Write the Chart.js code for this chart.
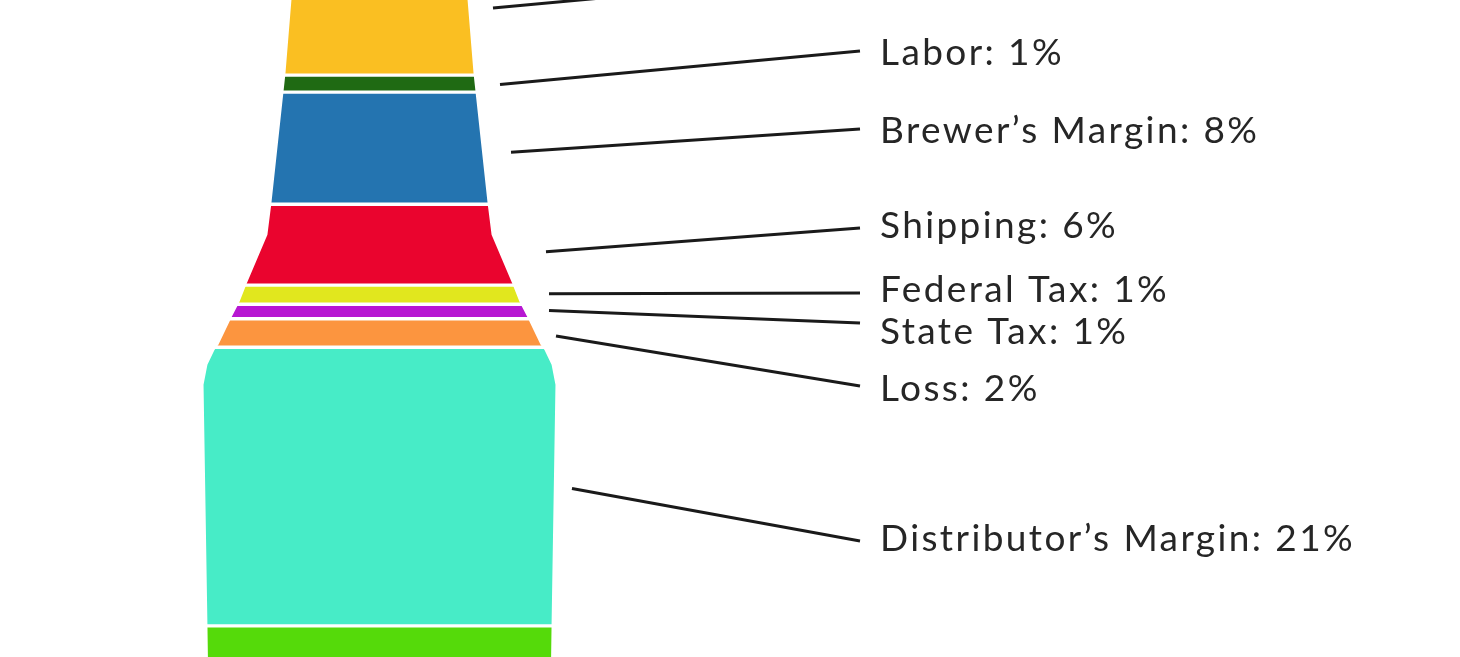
<!DOCTYPE html>
<html>
<head>
<meta charset="utf-8">
<script src="https://cdn.jsdelivr.net/npm/chart.js@4/dist/chart.umd.min.js"></script>
<style>
  html, body { margin: 0; padding: 0; background: #fff; }
  #wrap { width: 1460px; height: 657px; position: relative; }
</style>
</head>
<body>
<div id="wrap"><canvas id="bottleChart"></canvas></div>
<script>
// cost breakdown, top of the bottle first
const categories = ["Packaging", "Labor", "Brewer’s Margin", "Shipping", "Federal Tax", "State Tax", "Loss", "Distributor’s Margin", "Retailer’s Margin"];
const shares = [10, 1.27, 8.36, 6.04, 1.42, 1.08, 2.13, 20.78, 30];
const colors = ["#FABF22", "#1F6A13", "#2474B0", "#EA042E", "#E1E71E", "#B717D2", "#FC953F", "#47ECC7", "#55DA0A"];

// bottle outline: [cumulative share, fraction of bar half width]
const outline = [
  [0, 0.47], [4.4, 0.499], [9.9, 0.533], [19.5, 0.612], [21.9, 0.635],
  [25.5, 0.751], [26.9, 0.793], [28.0, 0.836], [30.1, 0.912], [30.5, 0.935],
  [31.6, 0.975], [33.1, 0.997], [50.9, 0.975], [60, 0.965]
];

// label placement (pixels)
const lineStartX = [493, 500, 511, 546, 549, 549, 556, 572, null];
const lineStartDY = [0, 1, 4, 7, -1, -1, 3, 2, 0];
const lineEndY = [-26, 51, 129, 228, 293, 323, 386, 541, null];
const textBaseY = [-12, 65, 143, 238, 302, 344, 401, 551, null];

function spacedText(ctx, str, x, y, spacing) {
  if ("letterSpacing" in ctx) {
    ctx.letterSpacing = spacing + "px";
    ctx.fillText(str, x, y);
    ctx.letterSpacing = "0px";
    return;
  }
  for (const ch of str) {
    ctx.fillText(ch, x, y);
    x += ctx.measureText(ch).width + spacing;
  }
}

const bottleClip = {
  id: "bottleClip",
  beforeDatasetsDraw(chart) {
    const ctx = chart.ctx;
    const bar = chart.getDatasetMeta(0).data[0];
    const cx = bar.x, half = bar.width / 2;
    const y = chart.scales.y;
    ctx.save();
    ctx.beginPath();
    outline.forEach(([v, f], i) => {
      const px = cx + f * half, py = y.getPixelForValue(v);
      if (i === 0) ctx.moveTo(px, py); else ctx.lineTo(px, py);
    });
    for (let i = outline.length - 1; i >= 0; i--) {
      ctx.lineTo(cx - outline[i][1] * half, y.getPixelForValue(outline[i][0]));
    }
    ctx.closePath();
    ctx.clip();
  },
  afterDatasetsDraw(chart) {
    chart.ctx.restore();
  }
};

const leaderLabels = {
  id: "leaderLabels",
  afterDraw(chart) {
    const ctx = chart.ctx;
    const y = chart.scales.y;
    let cum = 0;
    ctx.save();
    shares.forEach((v, i) => {
      const mid = y.getPixelForValue(cum + v / 2);
      cum += v;
      if (lineStartX[i] == null) return;
      ctx.strokeStyle = "#1a1a1a";
      ctx.lineWidth = 3;
      ctx.beginPath();
      ctx.moveTo(lineStartX[i], mid + lineStartDY[i]);
      ctx.lineTo(860, lineEndY[i]);
      ctx.stroke();
      ctx.fillStyle = "#262626";
      ctx.font = "37px Lato";
      ctx.textBaseline = "alphabetic";
      spacedText(ctx, categories[i] + ": " + Math.round(v) + "%", 880, textBaseY[i], 2.4);
    });
    ctx.restore();
  }
};

new Chart(document.getElementById("bottleChart"), {
  type: "bar",
  data: {
    labels: ["Beer"],
    datasets: categories.map((c, i) => ({
      label: c,
      data: [shares[i]],
      backgroundColor: colors[i],
      borderColor: "#fff",
      borderWidth: { top: 2, bottom: 2, left: 0, right: 0 },
      borderSkipped: false,
      categoryPercentage: 1,
      barPercentage: 1,
    })),
  },
  options: {
    responsive: true,
    maintainAspectRatio: false,
    animation: false,
    layout: { padding: { left: 203, right: 904, top: 0, bottom: 0 } },
    plugins: { legend: { display: false }, tooltip: { enabled: false } },
    scales: {
      x: { stacked: true, display: false },
      y: { stacked: true, display: false, reverse: true, min: 4.4, max: 53.4 },
    },
  },
  plugins: [bottleClip, leaderLabels],
});
</script>
</body>
</html>
